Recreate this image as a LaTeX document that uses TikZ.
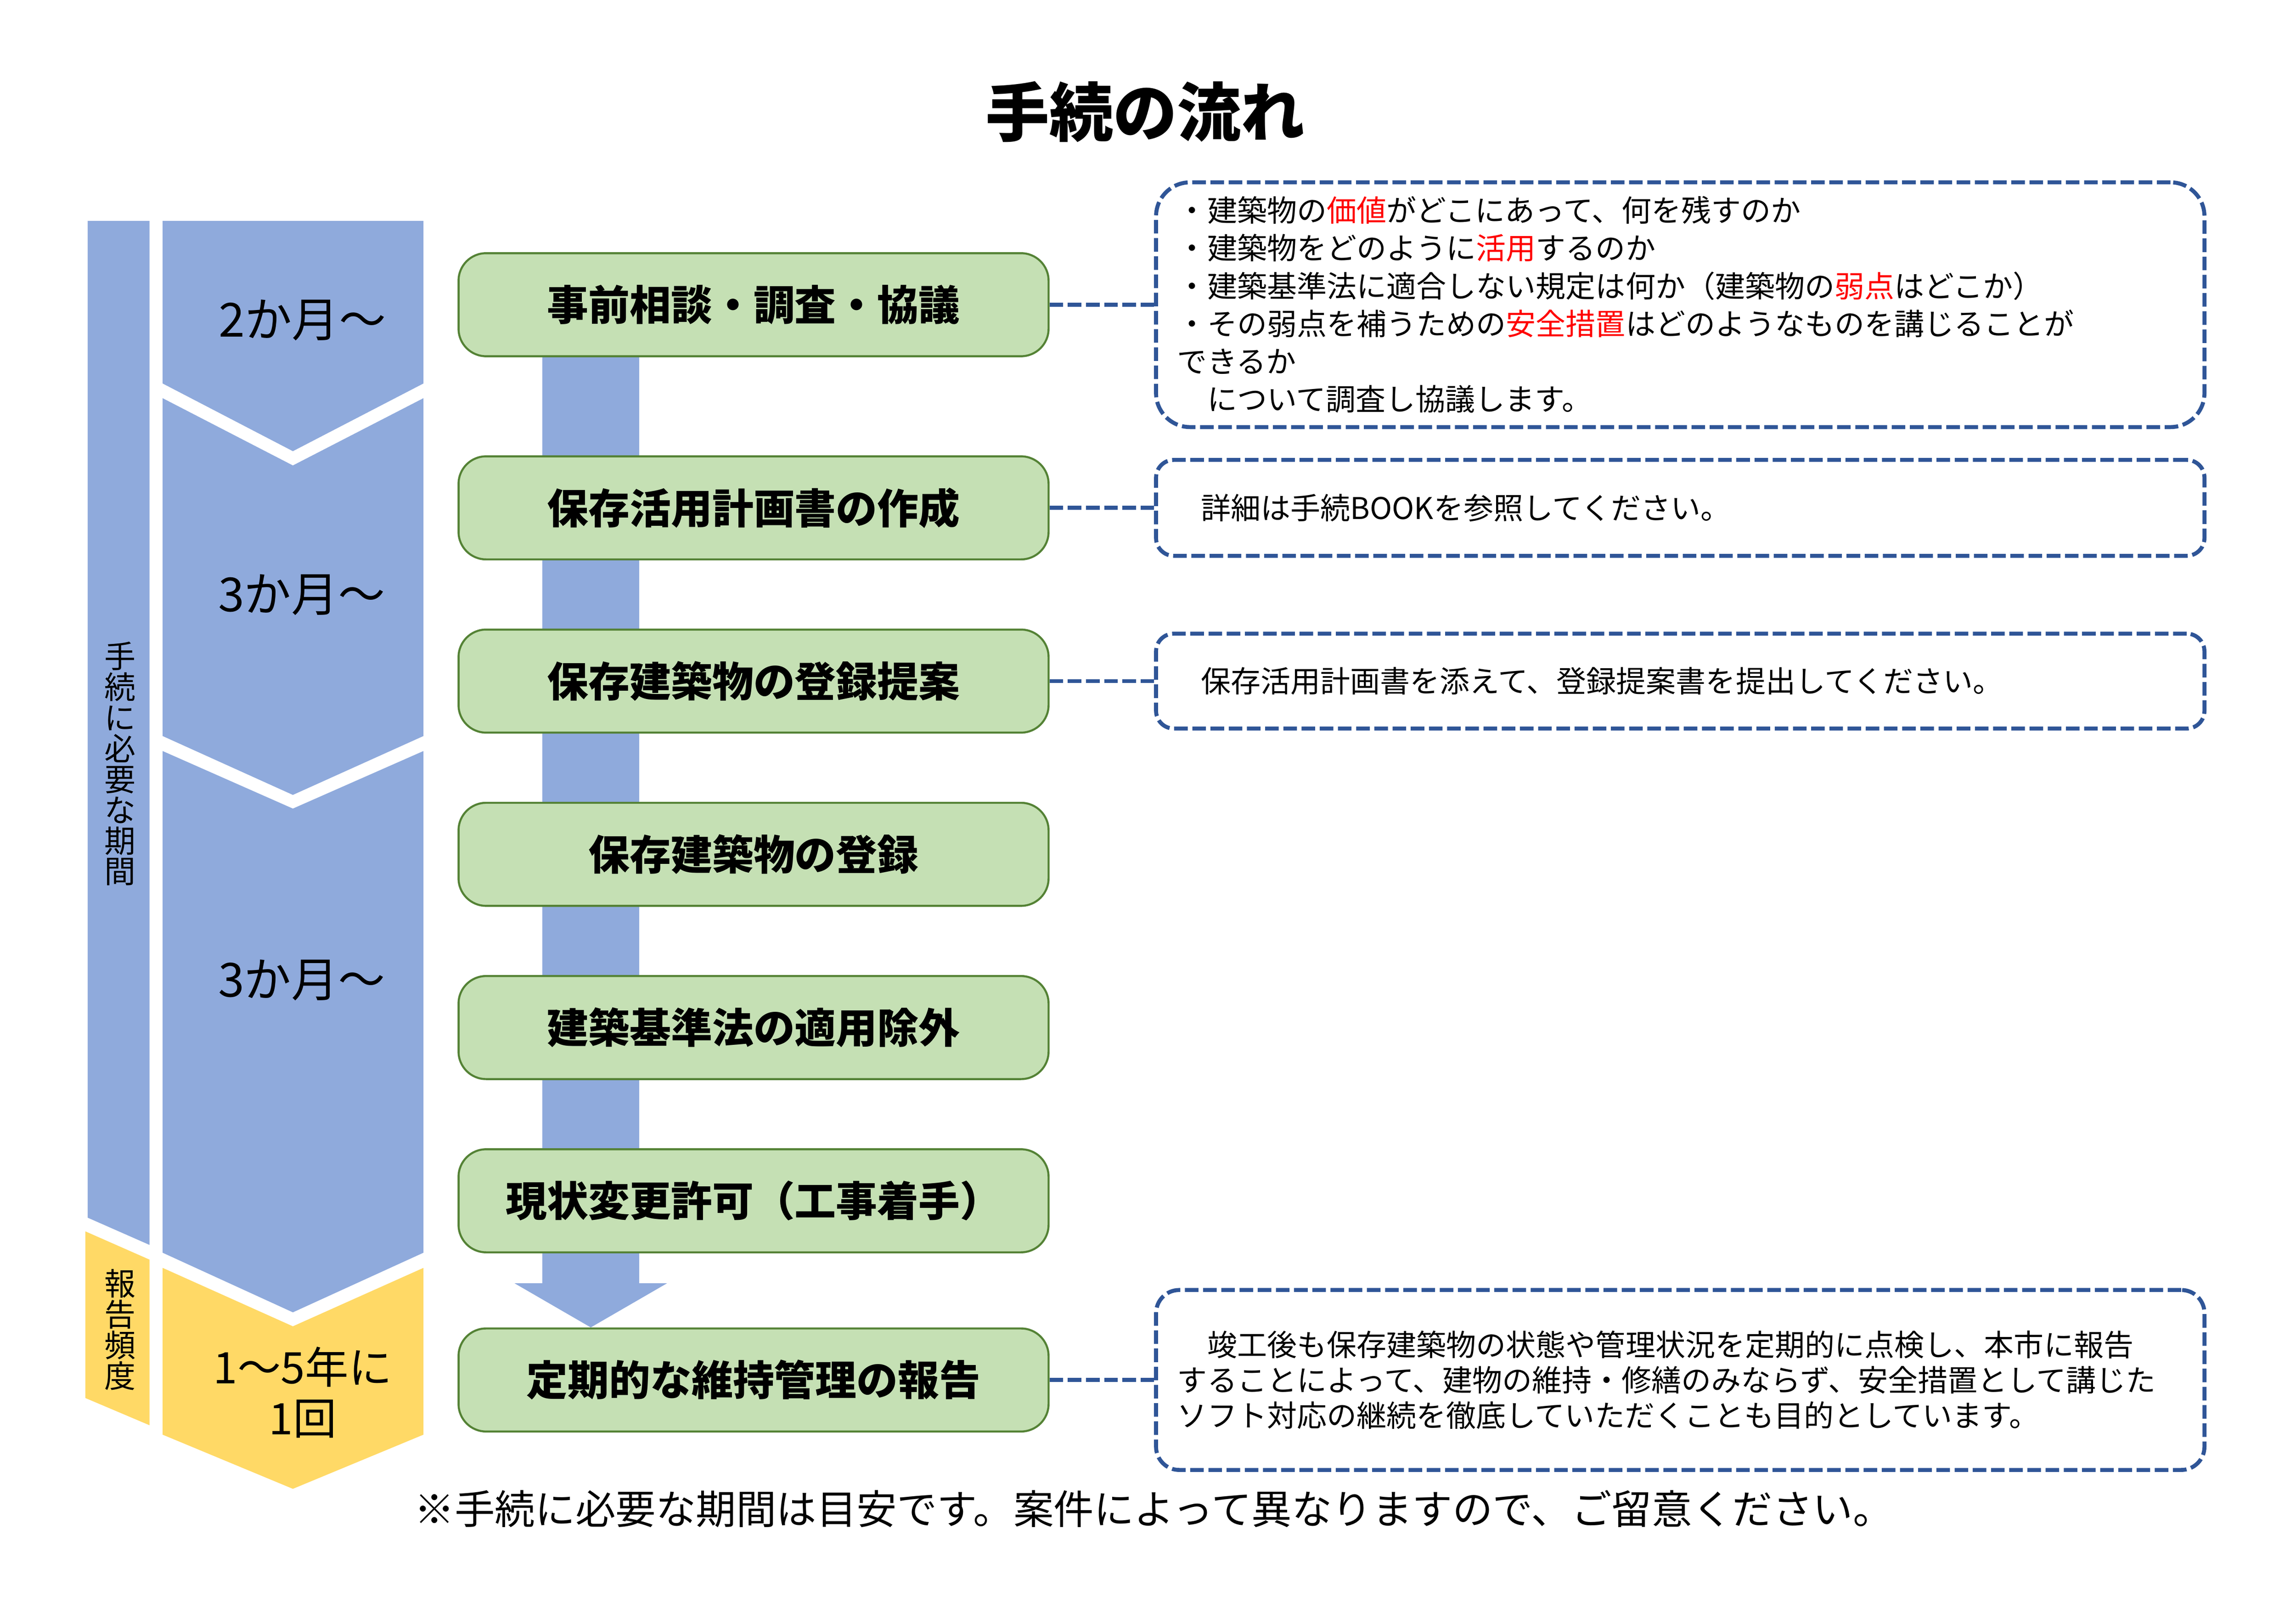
\documentclass[tikz,border=0pt]{standalone}
\usepackage{fontspec}
\setmainfont{Noto Sans CJK JP}
\usepackage{xcolor}
\usetikzlibrary{arrows.meta,positioning,backgrounds}

\definecolor{stepblue}{HTML}{8FAADC}
\definecolor{stepyellow}{HTML}{FFD966}
\definecolor{boxgreen}{HTML}{C5E0B4}
\definecolor{boxborder}{HTML}{548235}
\definecolor{notedash}{HTML}{2F5597}

\begin{document}
\begin{tikzpicture}[
    x=0.0190385cm, y=-0.0190385cm,
    node distance=2.241cm,
    font=\fontsize{11}{13.9}\selectfont,
    proc/.style={
		rectangle,
		rounded corners=0.356cm,
		draw=boxborder,
		line width=0.75pt,
		fill=boxgreen,
		text centered,
		minimum width=7.634cm,
		minimum height=1.333cm,
		inner sep=0pt,
		font=\bfseries\fontsize{15.2}{18}\selectfont
	},
	note/.style={
		rectangle,
		draw=notedash,
		line width=1.47pt,
		dash pattern=on 5pt off 1.7pt,
		minimum width=13.565cm,
		inner xsep=0.276cm,
		inner ysep=0pt,
		text width=13.013cm,
		align=left
	},
	link/.style={
		draw=notedash,
		line width=1.47pt,
		dash pattern=on 5pt off 1.7pt
	},
	period/.style={
		inner sep=0pt,
		font=\fontsize{17.3}{20}\selectfont
	},
	vlabel/.style={
		inner sep=0pt,
		align=center,
		font=\fontsize{11.5}{11.3}\selectfont
	},
	bigarrow/.style={
		draw=stepblue,
		line width=1.257cm,
		-{Triangle[width=1.948cm,length=0.571cm]}
	}
  ]
  \useasboundingbox (0,0) rectangle (1560,1103);

  % title
  \node [font=\bfseries\fontsize{23.5}{28}\selectfont] (title) at (778,76) {手続の流れ};

  % left columns
  \fill [stepblue] (59.6,150) -- (101.6,150) -- (101.6,845.7) -- (59.6,827.2) -- cycle;
  \fill [stepyellow] (58,836.5) -- (101.6,855.7) -- (101.6,968.2) -- (58,949.7) -- cycle;
  \node [vlabel] (span) at (81.6,518.9) {手\\続\\に\\必\\要\\な\\期\\間};
  \node [vlabel] (freq) at (81.6,903.3) {報\\告\\頻\\度};

  \fill [stepblue] (110.5,150) -- (287.7,150) -- (287.7,260.5) -- (199,306.5) -- (110.5,260.5) -- cycle;
  \fill [stepblue] (110.5,270.5) -- (199,316.2) -- (287.7,270.5) -- (287.7,500) -- (199,540) -- (110.5,500) -- cycle;
  \fill [stepblue] (110.5,510.2) -- (199,549.3) -- (287.7,510.2) -- (287.7,851) -- (199,891.5) -- (110.5,851) -- cycle;
  \fill [stepyellow] (110.5,861.3) -- (199,901) -- (287.7,861.3) -- (287.7,974.6) -- (199,1011.4) -- (110.5,974.6) -- cycle;

  \node [period] (p1) at (205.5,217.5) {2か月～};
  \node [period] (p2) at (205,404) {3か月～};
  \node [period] (p3) at (205,666) {3か月～};
  \node [period, align=center, font=\fontsize{16}{18.8}\selectfont] (p4) at (205.7,946) {1～5年に\\1回};

  % We start by placing the blocks
  \node [proc] (s1) at (512,207) {事前相談・調査・協議};
  \node [proc, below of=s1, yshift=-0.387cm] (s2) {保存活用計画書の作成};
  \node [proc, below of=s2] (s3) {保存建築物の登録提案};
  \node [proc, below of=s3] (s4) {保存建築物の登録};
  \node [proc, below of=s4] (s5) {建築基準法の適用除外};
  \node [proc, below of=s5] (s6) {現状変更許可（工事着手）};
  \node [proc, below of=s6, yshift=-0.077cm] (s7) {定期的な維持管理の報告};

  % notes
  \node [note, rounded corners=0.44cm, minimum height=3.166cm, node distance=11.99cm, right of=s1] (n1)
 {%
  ・建築物の\textcolor{red}{価値}がどこにあって、何を残すのか\\
  ・建築物をどのように\textcolor{red}{活用}するのか\\
  ・建築基準法に適合しない規定は何か（建築物の\textcolor{red}{弱点}はどこか）\\
  ・その弱点を補うための\textcolor{red}{安全措置}はどのようなものを講じることが\\
  できるか\\
  　について調査し協議します。
 };

  \node [note, rounded corners=0.23cm, minimum height=1.241cm, inner xsep=0.581cm, text width=12.403cm,
         node distance=11.99cm, right of=s2] (n2)
 {詳細は手続BOOKを参照してください。};

  \node [note, rounded corners=0.23cm, minimum height=1.228cm, inner xsep=0.581cm, text width=12.403cm,
         node distance=11.99cm, right of=s3] (n3)
 {保存活用計画書を添えて、登録提案書を提出してください。};

  \node [note, rounded corners=0.3cm, minimum height=2.328cm, node distance=11.99cm, right of=s7,
         font=\fontsize{11}{12.97}\selectfont] (n4)
 {%
  　竣工後も保存建築物の状態や管理状況を定期的に点検し、本市に報告\\
  することによって、建物の維持・修繕のみならず、安全措置として講じた\\
  ソフト対応の継続を徹底していただくことも目的としています。
 };

  % flow arrow behind the blocks
  \coordinate (ax) at (401.4,0);
  \begin{scope}[on background layer]
    \draw [bigarrow] (s1.south -| ax) -- (s7.north -| ax);
  \end{scope}

  \draw [link] (s1) -- (n1);
  \draw [link] (s2) -- (n2);
  \draw [link] (s3) -- (n3);
  \draw [link] (s7) -- (n4);

  \node [font=\fontsize{14.8}{17}\selectfont] (foot) at (784,1025)
 {※手続に必要な期間は目安です。案件によって異なりますので、ご留意ください。};

\end{tikzpicture}
\end{document}
